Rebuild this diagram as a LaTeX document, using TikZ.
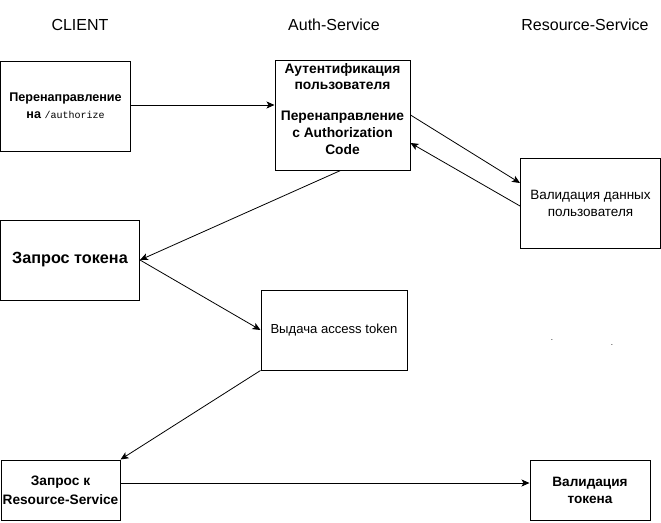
\documentclass[tikz,border=0pt]{standalone}
\usepackage{fontspec}
\setmainfont{Liberation Sans}
\newfontfamily\monofnt{Liberation Mono}
\usetikzlibrary{arrows.meta}
\tikzset{
  box/.style={draw=black, line width=1pt, rectangle, inner sep=0pt, align=center},
  txt/.style={inner sep=0pt, align=center},
  hdr/.style={font=\fontsize{16}{18}\selectfont},
  conn/.style={draw=black, line width=0.8pt, -{Stealth[length=8pt,width=7pt,inset=2pt]}},
}
\begin{document}
\begin{tikzpicture}[x=1pt,y=-1pt]
\useasboundingbox (0,0) rectangle (661,522);
\node[hdr] (h1) at (80,25) {CLIENT};
\node[hdr] (h2) at (334,25) {Auth-Service};
\node[hdr] (h3) at (585,25) {Resource-Service};

\node[box, minimum width=130, minimum height=90, font=\fontsize{12.6}{17}\selectfont\bfseries] (A) at (65.5,106) {Перенаправление\\на {\monofnt\mdseries\fontsize{10}{17}\selectfont /authorize}};
\node[box, minimum width=135, minimum height=110] (B) at (342.5,115) {};
\node[txt, font=\fontsize{13.8}{16}\selectfont\bfseries] (Bt1) at (342.5,77) {Аутентификация\\пользователя};
\node[txt, font=\fontsize{13.8}{17}\selectfont\bfseries] (Bt2) at (342.5,133) {Перенаправление\\с Authorization\\Code};
\node[box, minimum width=140, minimum height=90, font=\fontsize{13.5}{17}\selectfont] (C) at (590.5,203) {Валидация данных\\пользователя};
\node[box, minimum width=139, minimum height=80, font=\fontsize{16.2}{18}\selectfont\bfseries] (D) at (70,260) {Запрос токена};
\node[box, minimum width=146, minimum height=80, font=\fontsize{13.1}{16}\selectfont] (E) at (334,330) {Выдача access token};
\node[box, minimum width=119, minimum height=60, font=\fontsize{13.7}{19}\selectfont\bfseries] (F) at (60.5,490) {Запрос к\\Resource-Service};
\node[box, minimum width=120, minimum height=60, font=\fontsize{13.6}{17}\selectfont\bfseries] (G) at (590,490) {Валидация\\токена};

\node[font=\fontsize{8}{8}\selectfont, inner sep=0pt] (d1) at (552,340) {.};
\node[font=\fontsize{8}{8}\selectfont, inner sep=0pt] (d2) at (612,345) {.};

\draw[conn] (A.east |- 0,105) -- (B.west |- 0,105);
\draw[conn] (B.east |- 0,115) -- (C.west |- 0,183);
\draw[conn] (C.west |- 0,206) -- (B.east |- 0,143);
\draw[conn] ([xshift=-2pt]B.south) -- (D.east);
\draw[conn] (D.east) -- (E.west);
\draw[conn] (E.south west) -- (F.north east);
\draw[conn] (F.east |- 0,483) -- (G.west |- 0,483);
\end{tikzpicture}
\end{document}
